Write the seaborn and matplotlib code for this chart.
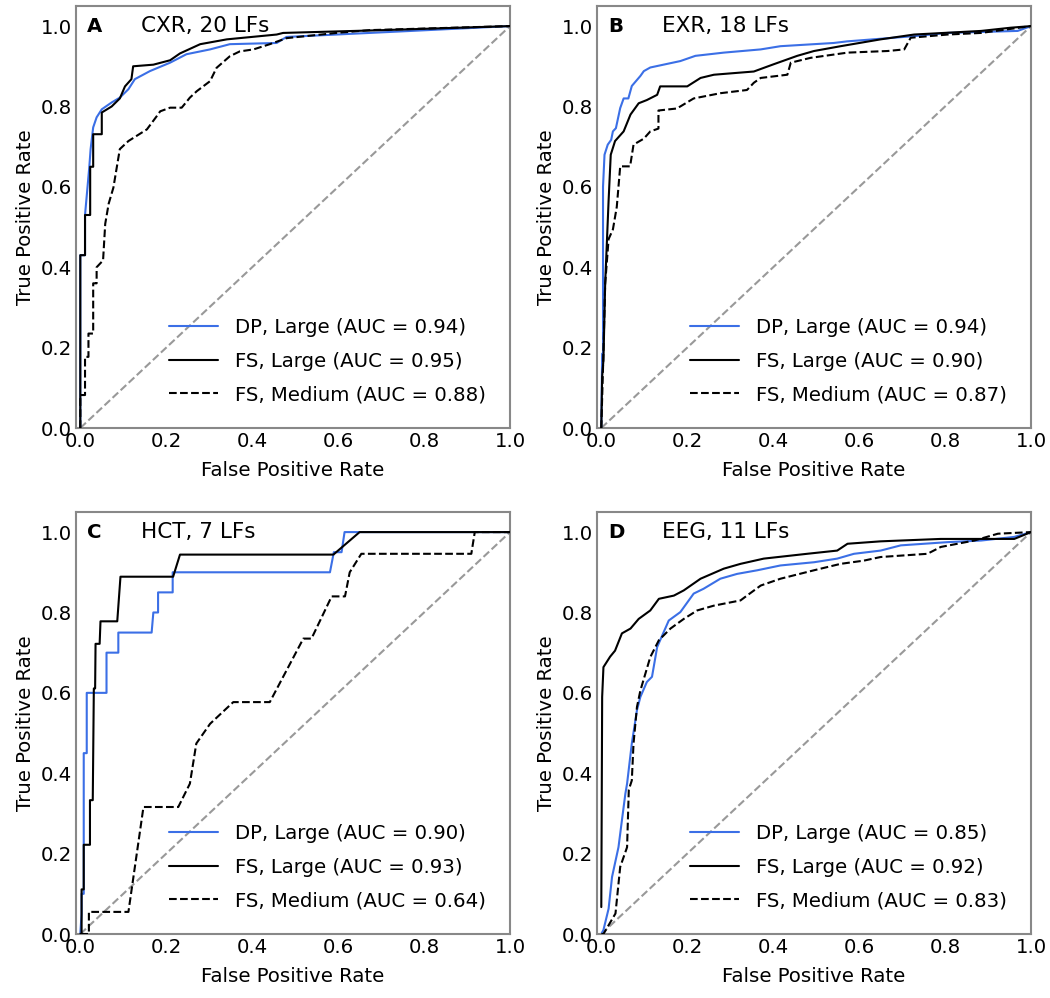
import matplotlib
matplotlib.use("Agg")
import matplotlib.pyplot as plt
import seaborn as sns
import numpy as np

# ---------------- data ----------------
panel_letters = ["A", "B", "C", "D"]
panel_titles = ["CXR, 20 LFs", "EXR, 18 LFs", "HCT, 7 LFs", "EEG, 11 LFs"]
series_names = ["DP, Large", "FS, Large", "FS, Medium"]

auc_cxr = [0.94, 0.95, 0.88]
auc_exr = [0.94, 0.90, 0.87]
auc_hct = [0.90, 0.93, 0.64]
auc_eeg = [0.85, 0.92, 0.83]

# CXR
cxr_dp_fpr = [0.0, 0.0, 0.011, 0.011, 0.021, 0.024, 0.030, 0.038, 0.050, 0.073, 0.092, 0.112, 0.127, 0.162, 0.209, 0.247, 0.302, 0.348, 0.457, 0.48, 0.596, 0.751, 1.0]
cxr_dp_tpr = [0.0, 0.43, 0.43, 0.53, 0.65, 0.694, 0.748, 0.773, 0.793, 0.81, 0.822, 0.843, 0.868, 0.888, 0.909, 0.93, 0.942, 0.955, 0.958, 0.973, 0.979, 0.987, 1.0]
cxr_fsl_fpr = [0.0, 0.0, 0.011, 0.011, 0.023, 0.023, 0.030, 0.030, 0.050, 0.050, 0.073, 0.092, 0.104, 0.119, 0.123, 0.17, 0.209, 0.232, 0.279, 0.341, 0.457, 0.472, 0.705, 1.0]
cxr_fsl_tpr = [0.0, 0.43, 0.43, 0.53, 0.53, 0.65, 0.65, 0.731, 0.731, 0.785, 0.80, 0.82, 0.85, 0.868, 0.90, 0.904, 0.915, 0.932, 0.955, 0.967, 0.979, 0.983, 0.99, 1.0]
cxr_fsm_fpr = [0.0, 0.0, 0.011, 0.011, 0.019, 0.019, 0.030, 0.030, 0.038, 0.038, 0.053, 0.058, 0.066, 0.077, 0.092, 0.112, 0.155, 0.178, 0.186, 0.209, 0.236, 0.255, 0.271, 0.302, 0.317, 0.348, 0.371, 0.403, 0.441, 0.48, 0.596, 0.674, 1.0]
cxr_fsm_tpr = [0.0, 0.082, 0.082, 0.177, 0.177, 0.235, 0.235, 0.36, 0.36, 0.40, 0.417, 0.508, 0.558, 0.598, 0.694, 0.714, 0.743, 0.776, 0.788, 0.797, 0.797, 0.822, 0.838, 0.863, 0.896, 0.925, 0.937, 0.942, 0.955, 0.97, 0.983, 0.99, 1.0]

# EXR
exr_dp_fpr = [0.0, 0.002, 0.004, 0.004, 0.0075, 0.015, 0.023, 0.027, 0.034, 0.044, 0.052, 0.063, 0.071, 0.091, 0.099, 0.114, 0.149, 0.184, 0.219, 0.285, 0.371, 0.417, 0.541, 0.572, 0.728, 0.806, 0.969, 1.0]
exr_dp_tpr = [0.0, 0.185, 0.185, 0.60, 0.68, 0.705, 0.717, 0.738, 0.746, 0.796, 0.82, 0.82, 0.851, 0.876, 0.888, 0.897, 0.905, 0.913, 0.926, 0.934, 0.942, 0.950, 0.958, 0.962, 0.975, 0.983, 0.988, 1.0]
exr_fsl_fpr = [0.0, 0.002, 0.005, 0.009, 0.017, 0.022, 0.032, 0.052, 0.068, 0.087, 0.106, 0.13, 0.137, 0.2, 0.231, 0.262, 0.355, 0.401, 0.456, 0.495, 0.557, 0.650, 0.728, 0.884, 0.953, 1.0]
exr_fsl_tpr = [0.0, 0.128, 0.169, 0.359, 0.566, 0.68, 0.714, 0.738, 0.78, 0.808, 0.816, 0.829, 0.85, 0.85, 0.871, 0.879, 0.887, 0.905, 0.926, 0.938, 0.950, 0.967, 0.979, 0.988, 0.996, 1.0]
exr_fsm_fpr = [0.0, 0.004, 0.009, 0.017, 0.027, 0.036, 0.044, 0.067, 0.075, 0.099, 0.114, 0.133, 0.133, 0.176, 0.215, 0.277, 0.339, 0.355, 0.371, 0.433, 0.441, 0.487, 0.573, 0.666, 0.705, 0.72, 0.806, 0.884, 1.0]
exr_fsm_tpr = [0.0, 0.15, 0.359, 0.47, 0.494, 0.55, 0.651, 0.651, 0.705, 0.72, 0.738, 0.745, 0.79, 0.795, 0.82, 0.833, 0.841, 0.859, 0.871, 0.879, 0.909, 0.921, 0.934, 0.938, 0.942, 0.971, 0.979, 0.983, 1.0]

# HCT
hct_dp_fpr = [0.0, 0.003, 0.003, 0.008, 0.008, 0.015, 0.015, 0.061, 0.061, 0.0885, 0.0885, 0.166, 0.17, 0.181, 0.181, 0.215, 0.215, 0.581, 0.590, 0.608, 0.615, 1.0]
hct_dp_tpr = [0.0, 0.05, 0.10, 0.10, 0.45, 0.45, 0.60, 0.60, 0.70, 0.70, 0.75, 0.75, 0.80, 0.80, 0.85, 0.85, 0.90, 0.90, 0.95, 0.95, 1.0, 1.0]
hct_fsl_fpr = [0.0, 0.003, 0.003, 0.008, 0.008, 0.0225, 0.0225, 0.029, 0.0315, 0.0345, 0.0355, 0.045, 0.047, 0.086, 0.0935, 0.216, 0.232, 0.589, 0.65, 1.0]
hct_fsl_tpr = [0.0, 0.0, 0.111, 0.111, 0.222, 0.222, 0.333, 0.333, 0.611, 0.611, 0.722, 0.722, 0.778, 0.778, 0.889, 0.889, 0.944, 0.944, 1.0, 1.0]
hct_fsm_fpr = [0.0, 0.02, 0.02, 0.112, 0.147, 0.228, 0.255, 0.27, 0.302, 0.356, 0.441, 0.519, 0.538, 0.585, 0.616, 0.627, 0.654, 0.91, 0.918, 1.0]
hct_fsm_tpr = [0.0, 0.0, 0.055, 0.055, 0.316, 0.316, 0.374, 0.474, 0.523, 0.577, 0.577, 0.735, 0.735, 0.84, 0.84, 0.90, 0.946, 0.946, 1.0, 1.0]

# EEG
eeg_dp_fpr = [0.0, 0.005, 0.017, 0.025, 0.04, 0.048, 0.056, 0.06, 0.071, 0.083, 0.091, 0.106, 0.118, 0.13, 0.157, 0.184, 0.215, 0.238, 0.277, 0.316, 0.363, 0.417, 0.495, 0.549, 0.588, 0.650, 0.697, 0.806, 0.884, 0.961, 1.0]
eeg_dp_tpr = [0.0, 0.01, 0.063, 0.142, 0.216, 0.283, 0.349, 0.374, 0.474, 0.557, 0.59, 0.627, 0.64, 0.714, 0.78, 0.801, 0.847, 0.859, 0.884, 0.896, 0.905, 0.917, 0.925, 0.934, 0.946, 0.954, 0.967, 0.975, 0.979, 0.988, 1.0]
eeg_fsl_fpr = [0.0, 0.002, 0.005, 0.0205, 0.032, 0.048, 0.068, 0.087, 0.114, 0.134, 0.169, 0.192, 0.231, 0.285, 0.324, 0.378, 0.479, 0.549, 0.573, 0.650, 0.79, 0.961, 1.0]
eeg_fsl_tpr = [0.067, 0.59, 0.664, 0.69, 0.705, 0.748, 0.76, 0.784, 0.805, 0.834, 0.842, 0.855, 0.884, 0.909, 0.921, 0.934, 0.946, 0.954, 0.971, 0.977, 0.983, 0.983, 1.0]
eeg_fsm_fpr = [0.0, 0.005, 0.033, 0.044, 0.06, 0.064, 0.071, 0.075, 0.083, 0.091, 0.114, 0.134, 0.161, 0.192, 0.223, 0.262, 0.324, 0.339, 0.371, 0.417, 0.495, 0.557, 0.611, 0.65, 0.759, 0.79, 0.868, 0.923, 1.0]
eeg_fsm_tpr = [0.0, 0.0, 0.051, 0.167, 0.216, 0.359, 0.382, 0.474, 0.565, 0.606, 0.689, 0.731, 0.76, 0.784, 0.805, 0.817, 0.83, 0.842, 0.867, 0.884, 0.905, 0.921, 0.929, 0.938, 0.946, 0.963, 0.979, 0.996, 1.0]

ticks = [0.0, 0.2, 0.4, 0.6, 0.8, 1.0]
tick_labels = ["0.0", "0.2", "0.4", "0.6", "0.8", "1.0"]

panels = [
    ([(cxr_dp_fpr, cxr_dp_tpr), (cxr_fsl_fpr, cxr_fsl_tpr), (cxr_fsm_fpr, cxr_fsm_tpr)], auc_cxr),
    ([(exr_dp_fpr, exr_dp_tpr), (exr_fsl_fpr, exr_fsl_tpr), (exr_fsm_fpr, exr_fsm_tpr)], auc_exr),
    ([(hct_dp_fpr, hct_dp_tpr), (hct_fsl_fpr, hct_fsl_tpr), (hct_fsm_fpr, hct_fsm_tpr)], auc_hct),
    ([(eeg_dp_fpr, eeg_dp_tpr), (eeg_fsl_fpr, eeg_fsl_tpr), (eeg_fsm_fpr, eeg_fsm_tpr)], auc_eeg),
]

# ---------------- style ----------------
sns.set_style("white")
plt.rcParams["font.family"] = ["DejaVu Sans"]
plt.rcParams["text.color"] = "black"
plt.rcParams["axes.labelcolor"] = "black"
plt.rcParams["xtick.color"] = "black"
plt.rcParams["ytick.color"] = "black"
FS = 14.2
FT = 15.5

colors = ["#3b6fe6", "black", "black"]
styles = ["-", "-", "--"]

fig = plt.figure(figsize=(10.5, 9.98), dpi=100)
W, H = 1050.0, 998.0
boxes = [(76, 6), (597, 6), (76, 512), (597, 512)]
aw, ah = 434, 422

for i, (series, aucs) in enumerate(panels):
    x0, y0 = boxes[i]
    ax = fig.add_axes([x0 / W, 1 - (y0 + ah) / H, aw / W, ah / H])
    sns.lineplot(x=[0, 1], y=[0, 1], ax=ax, color="#999999", linestyle="--",
                 lw=1.5, sort=False, estimator=None, zorder=1)
    for k, (fpr, tpr) in enumerate(series):
        sns.lineplot(x=fpr, y=tpr, ax=ax, color=colors[k], linestyle=styles[k],
                     lw=1.5, sort=False, estimator=None, zorder=2 + k,
                     label=f"{series_names[k]} (AUC = {aucs[k]:.2f})")
    ax.set_xlim(-0.01, 1.0)
    ax.set_ylim(0.0, 1.05)
    ax.set_xticks(ticks)
    ax.set_xticklabels(tick_labels, fontsize=FS)
    ax.set_yticks(ticks)
    ax.set_yticklabels(tick_labels, fontsize=FS)
    ax.tick_params(length=0, pad=3)
    ax.set_xlabel("False Positive Rate", fontsize=FS, labelpad=7)
    ax.set_ylabel("True Positive Rate", fontsize=FS, labelpad=4)
    for sp in ax.spines.values():
        sp.set_color("#888888")
        sp.set_linewidth(1.5)
    ax.text(0.025, 0.975, panel_letters[i], transform=ax.transAxes, fontsize=FS,
            fontweight="bold", va="top", ha="left")
    ax.text(0.15, 0.976, panel_titles[i], transform=ax.transAxes, fontsize=FT,
            va="top", ha="left")
    ax.legend(loc="lower right", frameon=False, fontsize=FS, handlelength=2.45,
              handletextpad=0.9, borderaxespad=0.8, labelspacing=0.75)

fig.savefig("out.png", dpi=100)
